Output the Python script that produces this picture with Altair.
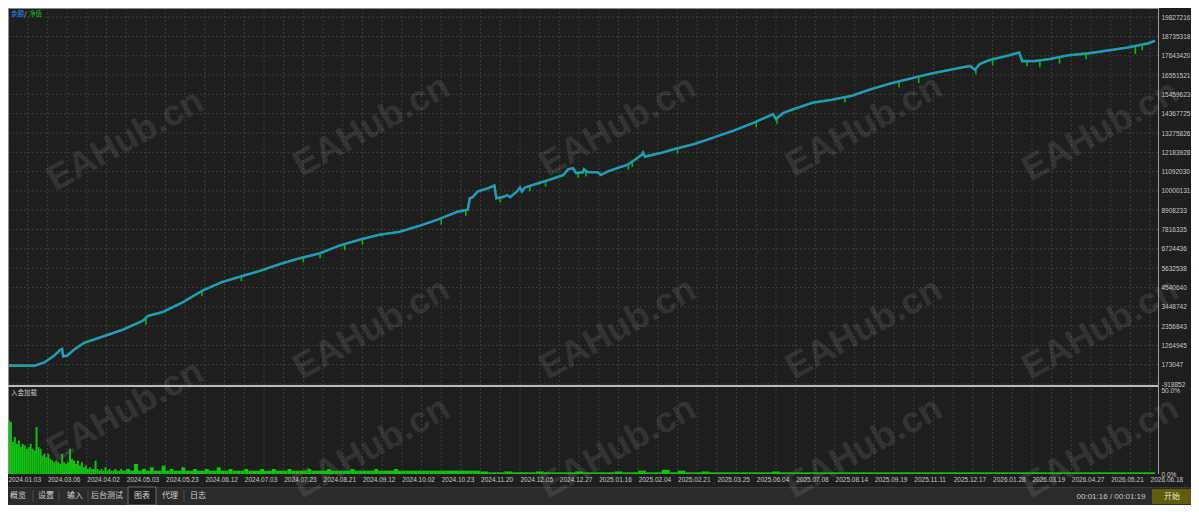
import altair as alt
import pandas as pd

# ---------------- data ----------------
date_labels = ["2024.01.03", "2024.03.06", "2024.04.02", "2024.05.03", "2024.05.23",
               "2024.06.12", "2024.07.03", "2024.07.23", "2024.08.21", "2024.09.12",
               "2024.10.02", "2024.10.23", "2024.11.20", "2024.12.05", "2024.12.27",
               "2025.01.16", "2025.02.04", "2025.02.21", "2025.03.25", "2025.06.04",
               "2025.07.08", "2025.08.14", "2025.09.19", "2025.11.11", "2025.12.17",
               "2026.01.28", "2026.03.19", "2026.04.27", "2026.05.21", "2026.06.18"]

y_ticks = [19827216, 18735318, 17643420, 16551521, 15459623, 14367725, 13275826,
           12183928, 11092030, 10000131, 8908233, 7816335, 6724436, 5632538,
           4540640, 3448742, 2356843, 1264945, 173047, -918852]

# balance curve: trade index -> balance
bal_idx = [0, 27, 37, 47, 53, 55, 56, 60, 67, 77, 97, 117, 137, 142, 157, 177, 197,
           217, 237, 257, 277, 297, 317, 337, 357, 377, 397, 417, 437, 457, 467, 469,
           472, 477, 487, 494, 496, 502, 507, 510, 517, 520, 522, 525, 537, 550, 564,
           569, 574, 577, 584, 585, 589, 599, 602, 610, 630, 644, 645, 647, 664, 677,
           697, 717, 737, 757, 777, 780, 787, 797, 817, 837, 857, 877, 897, 917, 937,
           957, 977, 982, 987, 997, 1017, 1027, 1030, 1042, 1057, 1077, 1097, 1117,
           1137, 1147, 1157, 1165]
bal_val = [120000, 120000, 300000, 690000, 1020000, 1070000, 640000, 690000, 1020000,
           1400000, 1780000, 2160000, 2660000, 2930000, 3150000, 3690000, 4350000,
           4840000, 5170000, 5500000, 5880000, 6200000, 6480000, 6920000, 7240000,
           7520000, 7680000, 8010000, 8390000, 8830000, 8940000, 9590000, 9650000,
           9970000, 10140000, 10300000, 9590000, 9650000, 9760000, 9650000, 9970000,
           10190000, 9970000, 10190000, 10410000, 10630000, 10900000, 11230000,
           11280000, 11010000, 11060000, 11230000, 11060000, 11060000, 10900000,
           11120000, 11500000, 12050000, 12160000, 11940000, 12160000, 12370000,
           12650000, 13030000, 13410000, 13850000, 14340000, 14070000, 14400000,
           14610000, 14990000, 15160000, 15380000, 15760000, 16090000, 16360000,
           16630000, 16850000, 17070000, 16850000, 17180000, 17400000, 17670000,
           17830000, 17340000, 17340000, 17450000, 17670000, 17780000, 17940000,
           18110000, 18220000, 18330000, 18490000]

# equity drawdown spikes below the balance: trade index, top, bottom
dip_idx = [140, 197, 237, 300, 317, 342, 360, 440, 465, 500, 530, 546, 579, 587, 630,
           634, 680, 760, 781, 850, 905, 925, 983, 1000, 1035, 1048, 1068, 1095, 1145, 1152]
dip_top = [2800000, 4350000, 5170000, 6240000, 6480000, 7000000, 7280000, 8450000,
           8920000, 9620000, 10250000, 10550000, 11030000, 11100000, 11500000, 11600000,
           12400000, 13900000, 14100000, 15300000, 16150000, 16400000, 16900000,
           17420000, 17340000, 17380000, 17550000, 17770000, 18200000, 18270000]
dip_low = [2450000, 4050000, 4900000, 5950000, 6200000, 6650000, 6980000, 8100000,
           8600000, 9350000, 9980000, 10250000, 10750000, 10820000, 11200000, 11350000,
           12100000, 13600000, 13800000, 15000000, 15850000, 16100000, 16600000,
           17100000, 17050000, 17000000, 17200000, 17450000, 17750000, 17950000]

# deposit load (%) per trade index
load_idx = ([0, 2, 4, 6, 8, 10, 12, 14, 16, 18, 20, 22, 24, 26, 28, 30, 32, 34, 36, 38,
             40, 42, 44, 46, 48, 50, 52, 54, 56, 58, 60, 62, 64, 66, 68, 70, 72, 74, 76,
             78, 80, 82, 84, 86, 88, 90, 92, 94, 96, 98, 100, 102, 104, 106, 108, 110,
             112, 114, 116, 118]
            + [120, 124, 128, 132, 136, 140, 144, 148, 152, 156, 160, 164, 168, 172, 176,
               180, 184, 188, 192, 196, 200, 204, 208, 212, 216, 220, 224, 228, 232, 236,
               240, 244, 248, 252, 256, 260, 264, 268, 272, 276, 280, 284, 288, 292, 296,
               300, 304, 308, 312, 316, 320, 324, 328, 332, 336, 340, 344, 348, 352, 356,
               360, 364, 368, 372, 376, 380, 384, 388, 392, 396, 400, 404, 408, 412, 416,
               420, 424, 428, 432, 436, 440, 444, 448, 452, 456, 460, 464, 468, 472, 476]
            + [480, 488, 496, 504, 512, 520, 528, 536, 544, 552, 560, 568, 576, 584, 592,
               600, 608, 616, 624, 632, 640, 648, 656, 664, 672, 680, 688, 696, 704, 712,
               720, 728, 736, 744, 752, 760, 768, 776, 784, 792, 800, 808, 816, 824, 832,
               840, 848, 856, 864, 872, 880, 888, 896, 904, 912, 920, 928, 936, 944, 952,
               960, 968, 976, 984, 992, 1000, 1008, 1016, 1024, 1032, 1040, 1048, 1056,
               1064, 1072, 1080, 1088, 1096, 1104, 1112, 1120, 1128, 1136, 1144, 1152, 1160])
load_pct = ([32, 31, 19, 22, 18, 20, 16, 18, 17, 15, 16, 18, 15, 14, 28, 16, 15, 11, 12,
             10, 12, 9, 8, 7, 8, 7, 6, 12, 7, 6, 7, 15, 9, 8, 6, 8, 5, 7, 4, 5, 3, 4, 3,
             3, 8, 3, 2, 3, 2, 4, 2, 3, 2, 2, 3, 2, 2, 3, 2, 2]
            + [3, 2, 6, 2, 3, 2, 4, 2, 2, 5, 2, 3, 2, 2, 4, 2, 2, 3, 2, 2, 3, 2, 2, 4, 2,
               2, 3, 2, 2, 2, 3, 2, 2, 2, 3, 2, 2, 3, 2, 2, 2, 3, 2, 2, 2, 2, 3, 2, 2, 2,
               2, 3, 2, 2, 2, 2, 2, 3, 2, 2, 2, 2, 2, 3, 2, 2, 2, 2, 3, 2, 2, 2, 2, 2, 2,
               2, 2, 2, 2, 2, 2, 2, 2, 2, 2, 2, 2, 2, 2, 2]
            + [1.5, 1, 1, 1.5, 1, 1, 1, 1.5, 1, 1, 1, 1, 1.5, 1, 1, 1, 1, 1.5, 1, 1, 2, 1,
               1, 2.5, 1, 2, 1, 1, 1.5, 1, 1, 1, 1, 1, 1, 1, 1, 1.5, 1, 1, 1, 1, 1, 1, 1,
               1, 1, 1, 1, 1, 1, 1, 1, 1, 1, 1, 1, 1, 1, 1, 1, 1, 1, 1, 1, 1, 1, 1, 1, 1,
               1, 1, 1, 1, 1, 1, 1, 1, 1, 1, 1, 1, 1, 1, 1, 1])

tab_names = ["概览", "设置", "输入", "后台测试", "图表", "代理", "日志"]

# ---------------- layout / style ----------------
W, H = 1183, 497
PLOT_R = 1150                      # right edge of the plot area (px)
X_DOM = [0, 1168]
MAIN_DOM = [-918852, 20345868]
MAIN_RNG = [376, 0]
LOAD_RNG = [466, 382]
BG = "#1e1e1e"
TXT = "#c8c8c8"
GRID = "#3d3d3d"
BLUE = "#2a8ff0"
GREEN = "#12b312"
BARGREEN = "#12c312"
NUMFONT = "Liberation Sans"
CJK = "Noto Sans CJK SC"

xscale = alt.Scale(domain=X_DOM, range=[0, PLOT_R], nice=False, zero=False)
mscale = alt.Scale(domain=MAIN_DOM, range=MAIN_RNG, nice=False, zero=False)
lscale = alt.Scale(domain=[0, 50], range=LOAD_RNG, nice=False, zero=True)

x_label_idx = [40 * i for i in range(len(date_labels))]
label_expr = "[" + ",".join("'%s'" % d for d in date_labels) + "][round(datum.value / 40)]"
xaxis = alt.Axis(values=x_label_idx, labelExpr=label_expr, orient="bottom", offset=-(H - LOAD_RNG[0]),
                 grid=False, ticks=False, domain=False, labelAlign="left", labelBaseline="top",
                 labelFlush=False, labelOverlap=False, labelFont=NUMFONT, labelFontSize=6.5,
                 labelColor=TXT, labelPadding=2, title=None)

bal_df = pd.DataFrame({"idx": bal_idx, "val": bal_val})
dip_df = pd.DataFrame({"idx": dip_idx, "top": dip_top, "low": dip_low})
load_df = pd.DataFrame({"idx": load_idx, "pct": load_pct})
load_df["idx2"] = load_df["idx"].shift(-1).fillna(1165)
ytick_df = pd.DataFrame({"val": y_ticks})
vgrid_df = pd.DataFrame({"idx": list(range(20, X_DOM[1], 20))})
one = pd.DataFrame({"k": [0]})


def txt(text, x, y, color=TXT, size=7.0, align="left", font=CJK, weight="normal",
        angle=None, opacity=1.0):
    kw = dict(align=align, baseline="middle", color=color, fontSize=size, font=font,
              fontWeight=weight, opacity=opacity)
    if angle is not None:
        kw["angle"] = angle
    return alt.Chart(one).mark_text(**kw).encode(x=alt.value(x), y=alt.value(y), text=alt.value(text))


def rect(x, x2, y, y2, fill, stroke=None):
    kw = dict(fill=fill)
    if stroke:
        kw.update(stroke=stroke, strokeWidth=1)
    return alt.Chart(one).mark_rect(**kw).encode(x=alt.value(x), x2=alt.value(x2),
                                                 y=alt.value(y), y2=alt.value(y2))


def hline(y, x, x2, color, width=1.0):
    return alt.Chart(one).mark_rule(color=color, strokeWidth=width).encode(
        y=alt.value(y), x=alt.value(x), x2=alt.value(x2))


def vline(x, y, y2, color, width=1.0):
    return alt.Chart(one).mark_rule(color=color, strokeWidth=width).encode(
        x=alt.value(x), y=alt.value(y), y2=alt.value(y2))


layers = []

# tab bar background
layers.append(rect(0, W, 479, H, "#2b2b2b"))
layers.append(hline(479.5, 0, W, "#3a3a3a"))

# grid lines
layers.append(alt.Chart(vgrid_df).mark_rule(color=GRID, strokeDash=[2, 2], strokeWidth=1).encode(
    x=alt.X("idx:Q", scale=xscale, axis=xaxis), y=alt.value(0), y2=alt.value(LOAD_RNG[0])))
layers.append(alt.Chart(ytick_df).mark_rule(color=GRID, strokeDash=[2, 2], strokeWidth=1).encode(
    y=alt.Y("val:Q", scale=mscale, axis=None), x=alt.value(0), x2=alt.value(PLOT_R)))

# watermarks
wm = [(122, 140), (372, 125), (622, 125), (872, 125), (1112, 130),
      (122, 420), (372, 335), (622, 335), (872, 335), (1112, 335),
      (372, 458), (622, 458), (872, 458), (1112, 458)]
for (wx, wy) in wm:
    layers.append(txt("EAHub.cn", (wx - 3) * 0.985, (wy - 3) * 0.966, color="#ffffff", size=36,
                      align="center", font="Liberation Sans", weight="bold", angle=331, opacity=0.09))

# deposit load bars
layers.append(alt.Chart(load_df).mark_bar(color=BARGREEN).encode(
    x=alt.X("idx:Q", scale=xscale, axis=xaxis), x2="idx2:Q",
    y=alt.Y("pct:Q", scale=lscale,
            axis=alt.Axis(orient="right", offset=-(W - PLOT_R), values=[0, 50],
                          labelExpr="format(datum.value, '.1f') + '%'", grid=False, ticks=False,
                          domain=False, labelFont=NUMFONT, labelFontSize=6.5, labelColor=TXT,
                          labelPadding=3, labelFlush=False, labelOverlap=False, title=None)),
    y2=alt.datum(0)))

# equity (green) under balance (blue)
layers.append(alt.Chart(bal_df).mark_line(color=GREEN, strokeWidth=2.6).encode(
    x=alt.X("idx:Q", scale=xscale, axis=xaxis), y=alt.Y("val:Q", scale=mscale, axis=None)))
layers.append(alt.Chart(dip_df).mark_rule(color=GREEN, strokeWidth=1.6).encode(
    x=alt.X("idx:Q", scale=xscale, axis=xaxis), y=alt.Y("top:Q", scale=mscale, axis=None),
    y2="low:Q"))
layers.append(alt.Chart(bal_df).mark_line(color=BLUE, strokeWidth=1.8).encode(
    x=alt.X("idx:Q", scale=xscale, axis=xaxis),
    y=alt.Y("val:Q", scale=mscale,
            axis=alt.Axis(orient="right", offset=-(W - PLOT_R), values=y_ticks,
                          labelExpr="'' + datum.value", grid=False, ticks=False, domain=False,
                          labelFont=NUMFONT, labelFontSize=6.5, labelColor=TXT, labelPadding=3,
                          labelFlush=False, labelOverlap=False, title=None))))

# frame
layers.append(vline(0.5, 0, LOAD_RNG[0], "#8a8a8a"))
layers.append(vline(PLOT_R + 0.5, 0, LOAD_RNG[0], "#a0a0a0"))
layers.append(hline(0.5, 0, PLOT_R, "#8a8a8a"))
layers.append(hline(378, 0, PLOT_R, "#bdbdbd", 2))

# legends / captions
layers.append(txt("余额", 3, 6, color=BLUE, size=6.5))
layers.append(txt("/", 16, 6, color=TXT, size=6.5))
layers.append(txt("净值", 21, 6, color=GREEN, size=6.5))
layers.append(txt("入金加载", 3, 385, color=TXT, size=6.5))

# tab bar
tab_x = [10, 38, 67, 99, 134, 162, 190]
layers.append(rect(120, 148, 479, H, BG, stroke="#6a6a6a"))
for sx in [25, 51, 80, 176]:
    layers.append(vline(sx, 482, 494, "#4a4a4a"))
for name, tx in zip(tab_names, tab_x):
    layers.append(txt(name, tx, 488, color="#d0d0d0", size=8, align="center"))
layers.append(txt("00:01:16 / 00:01:19", 1103, 489, color="#c8c8c8", size=8, align="center",
                  font=NUMFONT))
layers.append(rect(1144, W, 481, 496, "#5e5e0c"))
layers.append(txt("开始", 1164, 488.5, color="#e6e6c8", size=8, align="center"))

chart = alt.layer(*layers).resolve_scale(y="independent").properties(
    width=W, height=H, padding=0, background=BG,
    autosize=alt.AutoSizeParams(type="none")
).configure_view(stroke=None)

chart.save("out.html", embed_options={"renderer": "svg", "actions": False})
